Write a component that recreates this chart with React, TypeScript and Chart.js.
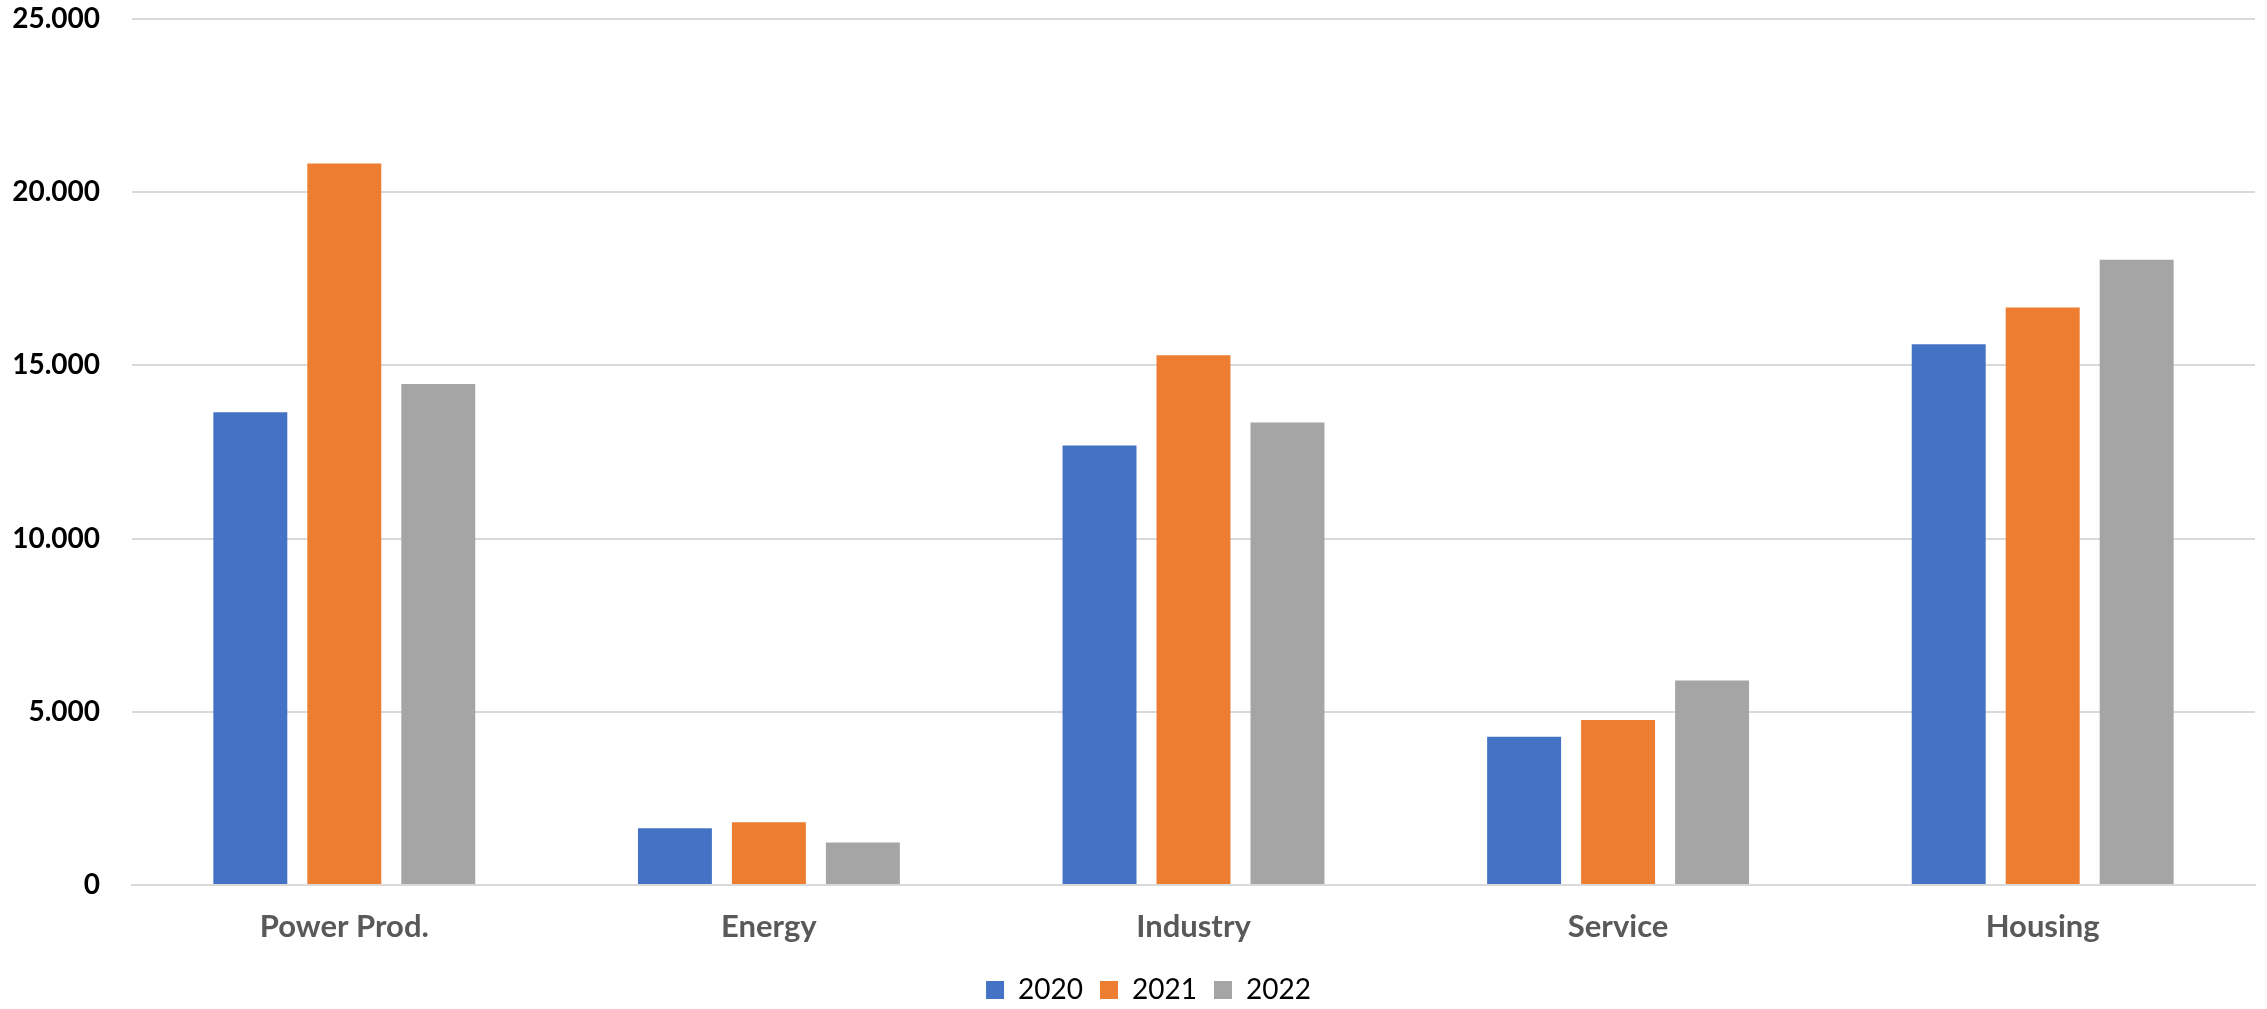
import React, { useEffect, useRef } from "react";
import { Chart, registerables } from "chart.js";

Chart.register(...registerables);

const categories = ["Power Prod.", "Energy", "Industry", "Service", "Housing"];
const seriesLabels = ["2020", "2021", "2022"];
const values2020 = [13650, 1640, 12690, 4280, 15610];
const values2021 = [20830, 1810, 15290, 4760, 16670];
const values2022 = [14460, 1230, 13350, 5900, 18050];
const seriesColors = ["#4472C4", "#ED7D31", "#A5A5A5"];
const yTicks = [0, 5000, 10000, 15000, 20000, 25000];

function fmt(v: number): string {
  return String(Math.round(v)).replace(/\B(?=(\d{3})+(?!\d))/g, ".");
}

const legendNudge = {
  id: "legendNudge",
  afterLayout(chart: any) {
    const l = chart.legend;
    if (!l) return;
    l.left += 21;
    l.right += 21;
  },
};

export default function App() {
  const ref = useRef<HTMLCanvasElement | null>(null);

  useEffect(() => {
    document.body.style.margin = "0";
    const canvas = ref.current;
    if (!canvas) return;
    const data = [values2020, values2021, values2022];
    const chart = new Chart(canvas, {
      type: "bar",
      data: {
        labels: categories,
        datasets: seriesLabels.map((l, i) => ({
          label: l,
          data: data[i],
          backgroundColor: seriesColors[i],
          borderWidth: 0,
          barPercentage: 0.787,
          categoryPercentage: 0.664,
        })),
      },
      plugins: [legendNudge],
      options: {
        responsive: false,
        animation: false,
        devicePixelRatio: 1,
        layout: { padding: { top: 19, right: 12, bottom: -5, left: 0 } },
        plugins: {
          tooltip: { enabled: false },
          legend: {
            position: "bottom",
            labels: {
              boxWidth: 18,
              boxHeight: 18,
              padding: 17,
              color: "#000000",
              font: { family: "Lato", size: 28 },
            },
          },
        },
        scales: {
          x: {
            grid: { display: false, drawTicks: false },
            border: { display: true, color: "#D9D9D9", width: 2 },
            afterFit: (s: any) => {
              s.height = 74;
            },
            ticks: {
              color: "#595959",
              padding: 23.4,
              font: { family: "Lato", size: 31, weight: "bold" },
            },
          },
          y: {
            min: 0,
            max: 25000,
            afterBuildTicks: (s: any) => {
              s.ticks = yTicks.map((v) => ({ value: v }));
            },
            afterFit: (s: any) => {
              s.width = 132;
              s.paddingTop = 0;
              s.paddingBottom = 0;
            },
            grid: { color: "#D9D9D9", lineWidth: 2, drawTicks: false },
            border: { display: false },
            ticks: {
              color: "#000000",
              padding: 32,
              font: { family: "Lato", size: 28, weight: "bold" },
              callback: (v: any) => fmt(Number(v)),
            },
          },
        },
      },
    });
    return () => chart.destroy();
  }, []);

  return (
    <div style={{ position: "fixed", left: 0, top: 0, width: 2267, height: 1009, background: "#fff" }}>
      <canvas ref={ref} width={2267} height={1009} style={{ width: 2267, height: 1009 }} />
    </div>
  );
}
